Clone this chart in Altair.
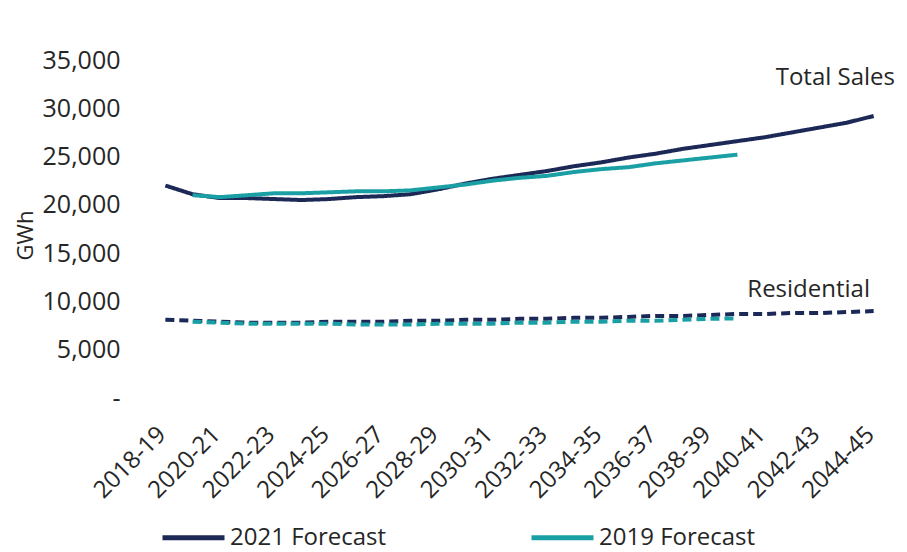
import altair as alt
import pandas as pd

years = ["2018-19", "2019-20", "2020-21", "2021-22", "2022-23", "2023-24", "2024-25",
         "2025-26", "2026-27", "2027-28", "2028-29", "2029-30", "2030-31", "2031-32",
         "2032-33", "2033-34", "2034-35", "2035-36", "2036-37", "2037-38", "2038-39",
         "2039-40", "2040-41", "2041-42", "2042-43", "2043-44", "2044-45"]

total_2021 = [22000, 21100, 20700, 20700, 20600, 20500, 20600, 20800, 20900, 21100,
              21600, 22200, 22700, 23100, 23500, 24000, 24400, 24900, 25300, 25800,
              26200, 26600, 27000, 27500, 28000, 28500, 29200]
total_2019 = [None, 21000, 20800, 21000, 21200, 21200, 21300, 21400, 21400, 21500,
              21800, 22100, 22500, 22800, 23000, 23400, 23700, 23900, 24300, 24600,
              24900, 25200, None, None, None, None, None]
res_2021 = [8100, 8000, 7900, 7800, 7800, 7800, 7900, 7900, 7900, 8000,
            8000, 8100, 8100, 8200, 8200, 8300, 8300, 8400, 8500, 8500,
            8600, 8700, 8700, 8800, 8800, 8900, 9000]
res_2019 = [None, 7900, 7800, 7700, 7700, 7700, 7700, 7600, 7600, 7600,
            7700, 7700, 7700, 7800, 7800, 7900, 7900, 8000, 8000, 8100,
            8200, 8250, None, None, None, None, None]

forecasts = ["2021 Forecast", "2019 Forecast"]
colors = ["#1c2957", "#1aa0a4"]
tick_years = years[::2]

rows = []
for series, fc, seg in [(total_2021, forecasts[0], "Total"), (res_2021, forecasts[0], "Residential"),
                        (total_2019, forecasts[1], "Total"), (res_2019, forecasts[1], "Residential")]:
    for yr, v in zip(years, series):
        if v is not None:
            rows.append({"year": yr, "gwh": v, "forecast": fc, "segment": seg,
                         "key": fc + " " + seg})
df = pd.DataFrame(rows)

FONT = "Open Sans"
TXT = "#262626"

x = alt.X("year:O", sort=years,
          scale=alt.Scale(type="point", domain=years, padding=0.6),
          axis=alt.Axis(title=None, values=tick_years, labelAngle=-45, labelFontSize=24,
                        labelColor=TXT, labelFont=FONT, ticks=False, domain=False,
                        labelPadding=24, labelOffset=-12, grid=False))
y = alt.Y("gwh:Q", scale=alt.Scale(domain=[0, 35000], nice=False),
          axis=alt.Axis(title="GWh", values=[0, 5000, 10000, 15000, 20000, 25000, 30000, 35000],
                        labelExpr="datum.value == 0 ? '-' : format(datum.value, ',')",
                        labelFontSize=25, labelColor=TXT, labelFont=FONT,
                        titleFont=FONT, titleFontSize=22, titleFontWeight="normal",
                        titleColor=TXT, titleX=-124, titleY=175,
                        titleAlign="center", titleBaseline="middle",
                        ticks=False, domain=False, grid=False, labelPadding=29))

color = alt.Color("forecast:N", scale=alt.Scale(domain=forecasts, range=colors),
                  legend=alt.Legend(title=None, orient="none", direction="horizontal",
                                    legendX=11, legendY=444, symbolType="stroke",
                                    symbolSize=3844, symbolStrokeWidth=5,
                                    labelFontSize=24, labelFont=FONT, labelColor=TXT,
                                    labelLimit=400, columnPadding=134, labelOffset=3))

lines = alt.Chart(df).mark_line(strokeWidth=4).encode(
    x=x, y=y, color=color,
    strokeDash=alt.StrokeDash("segment:N",
                              scale=alt.Scale(domain=["Total", "Residential"],
                                              range=[[1, 0], [9, 5]]),
                              legend=None),
    detail="key:N",
    order=alt.Order("forecast:N", sort="descending"),
)

total_lbl = alt.Chart(pd.DataFrame({"text": ["Total Sales"]})).mark_text(
    align="right", baseline="middle", fontSize=24, font=FONT, color=TXT
).encode(text="text:N", x=alt.value(746), y=alt.value(18))
res_lbl = alt.Chart(pd.DataFrame({"text": ["Residential"]})).mark_text(
    align="right", baseline="middle", fontSize=24, font=FONT, color=TXT
).encode(text="text:N", x=alt.value(721), y=alt.value(230))

chart = alt.layer(lines, total_lbl, res_lbl).properties(
    width=741, height=338,
    autosize=alt.AutoSizeParams(type="none"),
    padding={"left": 149, "top": 60, "right": 17, "bottom": 154},
    background="white",
).configure_view(stroke=None)

chart.save("out.html", embed_options={"renderer": "svg", "actions": False})
